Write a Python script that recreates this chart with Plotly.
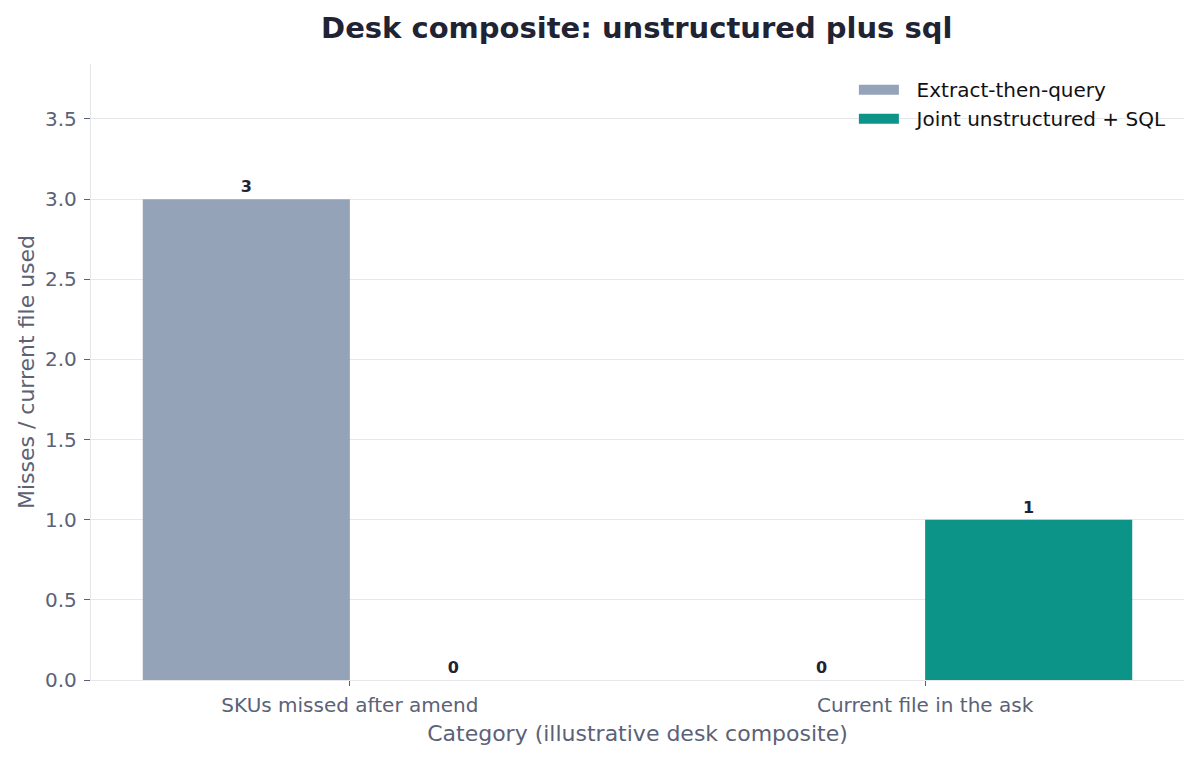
import plotly.graph_objects as go

categories = ["SKUs missed after amend", "Current file in the ask"]
extract_then_query = [3, 0]
joint_unstructured_sql = [0, 1]

series = [
    ("Extract-then-query", extract_then_query, "#94a3b8"),
    ("Joint unstructured + SQL", joint_unstructured_sql, "#0d9488"),
]

font = "DejaVu Sans"
fig = go.Figure()
for name, vals, color in series:
    fig.add_trace(go.Bar(
        x=categories, y=vals, name=name, showlegend=False,
        marker=dict(color=color, line=dict(width=0)),
        text=["<b>%d</b>" % v for v in vals], textposition="outside",
        textfont=dict(family=font, size=16, color="#1f2333"),
        cliponaxis=False,
    ))
# legend-only entries so the swatches are wide rectangles like the original
for name, vals, color in series:
    fig.add_trace(go.Scatter(
        x=[None], y=[None], name="\u00a0\u00a0" + name, mode="lines",
        line=dict(color=color, width=14),
    ))

# page has an 8px body margin, so the figure is sized to fit inside it
fig.update_layout(
    width=1183, height=744,
    margin=dict(l=83, r=7, t=56, b=72, autoexpand=False),
    paper_bgcolor="white", plot_bgcolor="white",
    barmode="group", bargap=0.28, bargroupgap=0,
    font=dict(family=font, color="#5b6276"),
    title=dict(text="<b>Desk composite: unstructured plus sql</b>",
               x=0.5315, xanchor="center", y=0.973, yanchor="middle",
               font=dict(family=font, size=29, color="#1f2333")),
    legend=dict(x=0.988, xanchor="right", y=0.99, yanchor="top",
                bgcolor="rgba(0,0,0,0)", font=dict(family=font, size=20, color="#111111"),
                itemwidth=40, tracegroupgap=2),
    showlegend=True,
)
fig.update_xaxes(
    range=[-0.45, 1.45], showgrid=False, automargin=False,
    showline=True, linecolor="#e5e7eb", linewidth=1.3,
    ticks="outside", ticklen=5, tickcolor="#5b6276", ticklabelstandoff=2,
    tickfont=dict(family=font, size=20, color="#5b6276"),
    title=dict(text="Category (illustrative desk composite)",
               font=dict(family=font, size=22, color="#5b6276"), standoff=9),
)
fig.update_yaxes(
    range=[0, 3.843], dtick=0.5, tickformat=".1f", automargin=False,
    showgrid=True, gridcolor="#e5e7eb", gridwidth=1.3, zeroline=False,
    showline=True, linecolor="#e5e7eb", linewidth=1.3,
    ticks="outside", ticklen=6, tickcolor="#5b6276", ticklabelstandoff=3,
    tickfont=dict(family=font, size=20, color="#5b6276"),
    title=dict(text="Misses / current file used",
               font=dict(family=font, size=22, color="#5b6276"), standoff=4),
)

fig.write_html("out.html")
